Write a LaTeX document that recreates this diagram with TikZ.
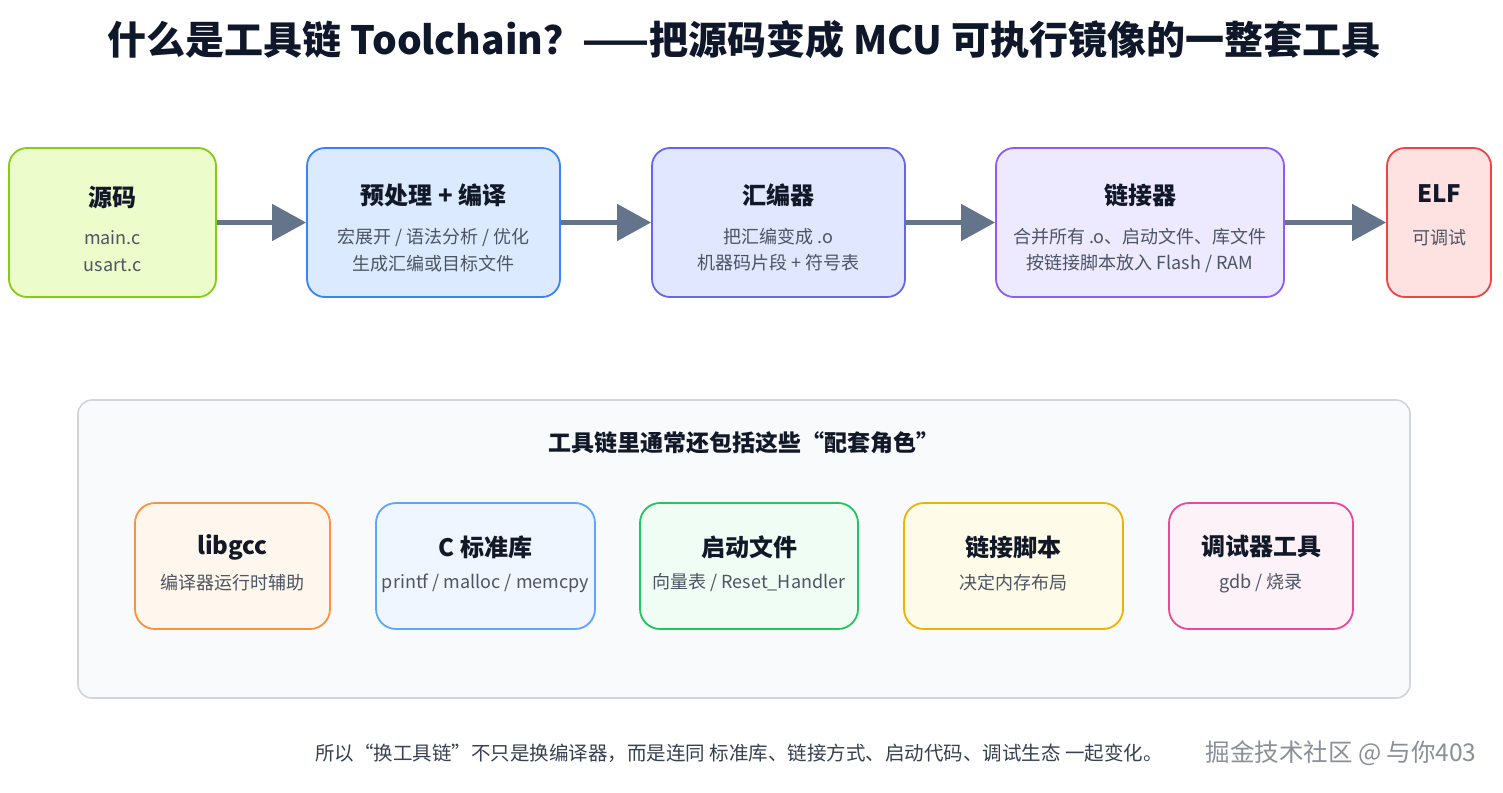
\documentclass[tikz,border=0pt]{standalone}
\usepackage{fontspec}
\setmainfont{Noto Sans CJK SC}
\usetikzlibrary{arrows.meta}

\definecolor{ink}{HTML}{111827}
\definecolor{headink}{HTML}{0F172A}
\definecolor{subink}{HTML}{4B5563}
\definecolor{footink}{HTML}{374151}
\definecolor{markink}{HTML}{8A8F98}
\definecolor{slate}{HTML}{64748B}
\definecolor{limeL}{HTML}{84CC16}\definecolor{limeF}{HTML}{ECFCCB}
\definecolor{blueL}{HTML}{3B82F6}\definecolor{blueF}{HTML}{DBEAFE}
\definecolor{indiL}{HTML}{6366F1}\definecolor{indiF}{HTML}{E0E7FF}
\definecolor{violL}{HTML}{8B5CF6}\definecolor{violF}{HTML}{EDE9FE}
\definecolor{redL}{HTML}{EF4444}\definecolor{redF}{HTML}{FEE2E2}
\definecolor{panL}{HTML}{D1D5DB}\definecolor{panF}{HTML}{F8FAFC}
\definecolor{orgL}{HTML}{FB923C}\definecolor{orgF}{HTML}{FFF7ED}
\definecolor{skyL}{HTML}{60A5FA}\definecolor{skyF}{HTML}{EFF6FF}
\definecolor{grnL}{HTML}{22C55E}\definecolor{grnF}{HTML}{F0FDF4}
\definecolor{ylwL}{HTML}{EAB308}\definecolor{ylwF}{HTML}{FEFCE8}
\definecolor{pnkL}{HTML}{EC4899}\definecolor{pnkF}{HTML}{FDF2F8}

\begin{document}
\begin{tikzpicture}[x=1pt,y=-1pt,
  stage/.style n args={3}{rectangle,draw=#1,fill=#2,line width=1.8pt,rounded corners=18pt,minimum width=#3pt,minimum height=149pt,inner sep=0pt},
  role/.style n args={3}{rectangle,draw=#1,fill=#2,line width=1.8pt,rounded corners=20pt,minimum width=#3pt,minimum height=126pt,inner sep=0pt},
  ttl/.style={font=\fontsize{24}{28}\selectfont\bfseries,text=ink,inner sep=0pt},
  sub/.style={font=\fontsize{18}{21}\selectfont,text=subink,inner sep=0pt},
  flow/.style={draw=slate,line width=5pt,-{Triangle[length=34pt,width=36pt]}}]
\useasboundingbox[fill=white] (0,0) rectangle (1503,792);

% heading
\node[font=\fontsize{39}{45}\selectfont\bfseries,text=headink] (head) at (744,40) {什么是工具链 Toolchain？——把源码变成 MCU 可执行镜像的一整套工具};

% pipeline
\node[stage={limeL}{limeF}{207}] (src) at (112.5,222.5) {};
\node[stage={blueL}{blueF}{253}] (pre) at (433.5,222.5) {};
\node[stage={indiL}{indiF}{253}] (asm) at (778.5,222.5) {};
\node[stage={violL}{violF}{288}] (lnk) at (1140,222.5) {};
\node[stage={redL}{redF}{104}] (elf) at (1439,222.5) {};

\node[ttl] (srcT) at (112.5,197) {源码};
\node[sub] (srcA) at (112.5,238) {main.c};
\node[sub] (srcB) at (112.5,265) {usart.c};
\node[ttl] (preT) at (433.5,195) {预处理 + 编译};
\node[sub] (preA) at (433.5,237) {宏展开 / 语法分析 / 优化};
\node[sub] (preB) at (433.5,264) {生成汇编或目标文件};
\node[ttl] (asmT) at (778.5,195) {汇编器};
\node[sub] (asmA) at (778.5,237) {把汇编变成 .o};
\node[sub] (asmB) at (778.5,263) {机器码片段 + 符号表};
\node[ttl] (lnkT) at (1140,195) {链接器};
\node[sub] (lnkA) at (1140,237) {合并所有 .o、启动文件、库文件};
\node[sub] (lnkB) at (1140,264) {按链接脚本放入 Flash / RAM};
\node[ttl] (elfT) at (1439,194) {ELF};
\node[sub] (elfA) at (1439,238) {可调试};

\draw[flow] (src) -- (pre);
\draw[flow] (pre) -- (asm);
\draw[flow] (asm) -- (lnk);
\draw[flow] (lnk) -- (elf);

% supporting roles
\node[rectangle,draw=panL,fill=panF,line width=1.6pt,rounded corners=14pt,minimum width=1332pt,minimum height=298pt] (panel) at (744,549) {};
\node[font=\fontsize{23}{27}\selectfont\bfseries,text=ink] (panT) at (744,443) {工具链里通常还包括这些“配套角色”};

\node[role={orgL}{orgF}{195}] (lib) at (232.5,566) {};
\node[role={skyL}{skyF}{219}] (std) at (485.5,566) {};
\node[role={grnL}{grnF}{218}] (boot) at (749,566) {};
\node[role={ylwL}{ylwF}{219}] (ld) at (1013.5,566) {};
\node[role={pnkL}{pnkF}{184}] (dbg) at (1261,566) {};

\foreach \n/\t/\s in {lib/{libgcc}/{编译器运行时辅助}, std/{C 标准库}/{printf / malloc / memcpy},
  boot/{启动文件}/{向量表 / Reset\_Handler}, ld/{链接脚本}/{决定内存布局}, dbg/{调试器工具}/{gdb / 烧录}} {
  \node[ttl] (\n T) at ([yshift=19pt]\n.center) {\t};
  \node[sub] (\n S) at ([yshift=-17pt]\n.center) {\s};
}

% footer
\node[font=\fontsize{19.5}{23}\selectfont,text=footink] (foot) at (739,753) {所以“换工具链”不只是换编译器，而是连同 标准库、链接方式、启动代码、调试生态 一起变化。};
\node[font=\fontsize{24.5}{28}\selectfont,text=markink] (mark) at (1341,753) {掘金技术社区 @ 与你403};
\end{tikzpicture}
\end{document}
